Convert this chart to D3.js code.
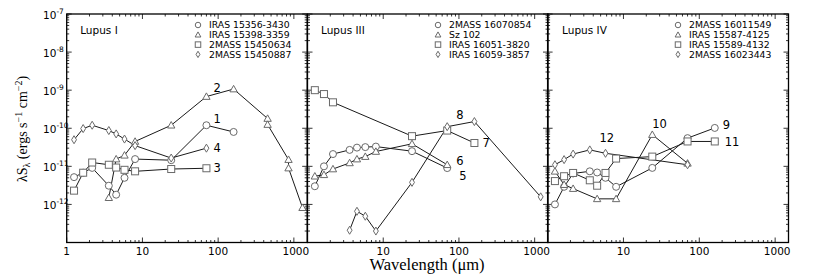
<!DOCTYPE html>
<html><head><meta charset="utf-8">
<script src="https://cdn.jsdelivr.net/npm/d3@7"></script>
<style>body{margin:0;background:#fff}svg{display:block}</style>
</head><body><svg id="c" width="830" height="277"></svg>
<script>
// ---- data ----
const panelTitles = ["Lupus I", "Lupus III", "Lupus IV"];
const xTickValues = [1, 10, 100, 1000];
const yTickValues = [1e-13, 1e-12, 1e-11, 1e-10, 1e-9, 1e-8, 1e-7];
const yTickExps = ["-13", "-12", "-11", "-10", "-9", "-8", "-7"];

// Lupus I
const l1_names = ["IRAS 15356-3430", "IRAS 15398-3359", "2MASS 15450634", "2MASS 15450887"];
const l1_s1_wl = [1.25, 1.65, 2.17, 3.6, 4.5, 5.8, 8, 24, 70, 160];
const l1_s1_f = [5.2e-12, 6.8e-12, 9.1e-12, 3.1e-12, 1.8e-12, 5.0e-12, 1.55e-11, 1.45e-11, 1.2e-10, 8e-11];
const l1_s2_wl = [3.6, 4.5, 5.8, 8, 24, 70, 160, 450, 450, 850, 850, 1300];
const l1_s2_f = [1.5e-12, 1.55e-11, 1.95e-11, 4.5e-11, 1.2e-10, 6.8e-10, 1.07e-9, 1.8e-10, 1.25e-10, 1.5e-11, 9e-12, 8.2e-13];
const l1_s3_wl = [1.25, 1.65, 2.17, 3.6, 4.5, 5.8, 8, 24, 70];
const l1_s3_f = [2.3e-12, 6.8e-12, 1.26e-11, 1.1e-11, 9.3e-12, 8.1e-12, 7.4e-12, 8.5e-12, 8.9e-12];
const l1_s4_wl = [1.25, 1.65, 2.17, 3.6, 4.5, 5.8, 8, 24, 70];
const l1_s4_f = [5e-11, 9.8e-11, 1.2e-10, 8.7e-11, 7.1e-11, 5.2e-11, 3.5e-11, 1.65e-11, 3e-11];
const l1_labels = ["1", "2", "3", "4"];

// Lupus III
const l3_names = ["2MASS 16070854", "Sz 102", "IRAS 16051-3820", "IRAS 16059-3857"];
const l3_s1_wl = [1.25, 1.65, 2.17, 3.6, 4.5, 5.8, 8, 24, 70];
const l3_s1_f = [3e-12, 1e-11, 2.1e-11, 2.7e-11, 3.1e-11, 3.2e-11, 3.3e-11, 2.5e-11, 9e-12];
const l3_s2_wl = [1.25, 1.65, 2.17, 3.6, 4.5, 5.8, 8, 24, 70];
const l3_s2_f = [5.5e-12, 6e-12, 8.5e-12, 1.23e-11, 1.55e-11, 1.8e-11, 2.45e-11, 3.9e-11, 1.1e-11];
const l3_s3_wl = [1.25, 1.65, 2.17, 24, 70, 160];
const l3_s3_f = [1e-9, 7.9e-10, 4.8e-10, 6.2e-11, 8.7e-11, 4.1e-11];
const l3_s4_wl = [3.6, 4.5, 5.8, 8, 24, 70, 160, 1200];
const l3_s4_f = [2.1e-13, 6.6e-13, 4.9e-13, 2e-13, 3.8e-12, 1.1e-10, 1.5e-10, 1.58e-12];
const l3_labels = ["5", "6", "7", "8"];

// Lupus IV
const l4_names = ["2MASS 16011549", "IRAS 15587-4125", "IRAS 15589-4132", "2MASS 16023443"];
const l4_s1_wl = [1.25, 1.65, 2.17, 3.6, 4.5, 5.8, 8, 24, 70, 160];
const l4_s1_f = [1e-12, 2.9e-12, 6.5e-12, 7.4e-12, 6.9e-12, 5e-12, 2.9e-12, 9.1e-12, 5.5e-11, 1.02e-10];
const l4_s2_wl = [1.25, 1.65, 2.17, 4.5, 8, 24, 70];
const l4_s2_f = [7.4e-12, 3.3e-12, 2.6e-12, 1.4e-12, 1.4e-12, 6.8e-11, 1.2e-11];
const l4_s3_wl = [1.25, 1.65, 2.17, 3.6, 4.5, 5.8, 8, 24, 70, 160];
const l4_s3_f = [4.1e-12, 5.5e-12, 6.7e-12, 4.3e-12, 3.1e-12, 6.7e-12, 1.6e-11, 1.8e-11, 4.5e-11, 4.5e-11];
const l4_s4_wl = [1.25, 1.65, 2.17, 3.6, 5.8, 70];
const l4_s4_f = [1.1e-11, 1.5e-11, 2.1e-11, 2.7e-11, 2.2e-11, 1.1e-11];
const l4_labels = ["9", "10", "11", "12"];

const markerTypes = ["circle", "triangle", "square", "diamond"];

const panels = [
  {title: panelTitles[0], names: l1_names, labels: l1_labels,
   series: [[l1_s1_wl, l1_s1_f], [l1_s2_wl, l1_s2_f], [l1_s3_wl, l1_s3_f], [l1_s4_wl, l1_s4_f]],
   lab: [[8, 7, -6], [5, 7, -9], [8, 7, 0], [8, 7, 0]]},
  {title: panelTitles[1], names: l3_names, labels: l3_labels,
   series: [[l3_s1_wl, l3_s1_f], [l3_s2_wl, l3_s2_f], [l3_s3_wl, l3_s3_f], [l3_s4_wl, l3_s4_f]],
   lab: [[8, 12, 8], [8, 9, -4], [5, 8, 0], [5, 9, -12]]},
  {title: panelTitles[2], names: l4_names, labels: l4_labels,
   series: [[l4_s1_wl, l4_s1_f], [l4_s2_wl, l4_s2_f], [l4_s3_wl, l4_s3_f], [l4_s4_wl, l4_s4_f]],
   lab: [[9, 8, -3], [5, 0, -11], [9, 10, 1], [4, -6, -15]]}
];

// ---- layout ----
const svg = d3.select("#c");
const yTop = 14, yBot = 242.5;
const panelX = [[66.7, 307.2], [307.5, 548], [547.6, 788.5]];
const y = d3.scaleLog().domain([1e-13, 1e-7]).range([yBot, yTop]);
const lineCol = "#1a1a1a", mkCol = "#6a6a6a";

function drawMarker(g, type, cx, cy, s) {
  const h = s / 2;
  let el;
  if (type === "circle") el = g.append("circle").attr("cx", cx).attr("cy", cy).attr("r", h);
  else if (type === "square") el = g.append("rect").attr("x", cx - h).attr("y", cy - h).attr("width", s).attr("height", s);
  else if (type === "triangle") el = g.append("path").attr("d", `M${cx},${cy - h * 1.05}L${cx + h * 1.05},${cy + h * 0.8}L${cx - h * 1.05},${cy + h * 0.8}Z`);
  else el = g.append("path").attr("d", `M${cx},${cy - h * 1.15}L${cx + h * 0.7},${cy}L${cx},${cy + h * 1.15}L${cx - h * 0.7},${cy}Z`);
  el.attr("fill", "#fff").attr("stroke", mkCol).attr("stroke-width", 1);
}

const minorMult = [2, 3, 4, 5, 6, 7, 8, 9];

panels.forEach((p, pi) => {
  const [x0, x1] = panelX[pi];
  const x = d3.scaleLog().domain([1, 1500]).range([x0, x1]);
  const g = svg.append("g");

  const tg = g.append("g").attr("stroke", "#000").attr("stroke-width", 0.8);
  const xMinor = [];
  xTickValues.forEach(v => minorMult.forEach(m => { if (v * m <= 1500) xMinor.push(v * m); }));
  xTickValues.forEach(v => {
    const px = x(v);
    tg.append("line").attr("x1", px).attr("x2", px).attr("y1", yBot).attr("y2", yBot - 5);
    tg.append("line").attr("x1", px).attr("x2", px).attr("y1", yTop).attr("y2", yTop + 5);
  });
  xMinor.forEach(v => {
    const px = x(v);
    tg.append("line").attr("x1", px).attr("x2", px).attr("y1", yBot).attr("y2", yBot - 2.5);
    tg.append("line").attr("x1", px).attr("x2", px).attr("y1", yTop).attr("y2", yTop + 2.5);
  });
  yTickValues.forEach(v => {
    const py = y(v);
    tg.append("line").attr("x1", x0).attr("x2", x0 + 5).attr("y1", py).attr("y2", py);
    tg.append("line").attr("x1", x1).attr("x2", x1 - 5).attr("y1", py).attr("y2", py);
    if (v < 1e-7) minorMult.forEach(m => {
      const pm = y(v * m);
      tg.append("line").attr("x1", x0).attr("x2", x0 + 2.5).attr("y1", pm).attr("y2", pm);
      tg.append("line").attr("x1", x1).attr("x2", x1 - 2.5).attr("y1", pm).attr("y2", pm);
    });
  });

  xTickValues.forEach(v => {
    if (pi > 0 && v === 1) return;
    g.append("text").attr("x", x(v) + (v === 1000 ? 2 : 0)).attr("y", 254.5).attr("text-anchor", "middle")
      .attr("font-family", "DejaVu Sans").attr("font-size", 10.5).text(String(v));
  });

  if (pi === 0) {
    yTickValues.forEach((v, i) => {
      if (v < 1e-12) return;
      const t = g.append("text").attr("x", 43).attr("y", y(v) + 4.5)
        .attr("font-family", "DejaVu Sans").attr("font-size", 10.5);
      t.append("tspan").text("10");
      t.append("tspan").attr("dy", -5).attr("font-size", 7.5).text(yTickExps[i]);
    });
  }

  const line = d3.line().x(d => x(d[0])).y(d => y(d[1]));
  p.series.forEach(s => {
    const pts = s[0].map((w, k) => [w, s[1][k]]);
    g.append("path").attr("d", line(pts)).attr("fill", "none").attr("stroke", lineCol).attr("stroke-width", 1);
  });
  p.series.forEach((s, si) => {
    s[0].forEach((w, k) => drawMarker(g, markerTypes[si], x(w), y(s[1][k]), 7));
  });
  p.series.forEach((s, si) => {
    const [idx, dx, dy] = p.lab[si];
    g.append("text").attr("x", x(s[0][idx]) + dx).attr("y", y(s[1][idx]) + dy + 4)
      .attr("font-family", "DejaVu Sans").attr("font-size", 11.5).text(p.labels[si]);
  });

  g.append("text").attr("x", x0 + [13.5, 13.5, 14.5][pi]).attr("y", 34)
    .attr("font-family", "DejaVu Sans").attr("font-size", 10.5).text(p.title);

  const lx = [198, 438, 678][pi];
  p.names.forEach((n, i) => {
    const ly = 25 + i * 9.8;
    drawMarker(g, markerTypes[i], lx, ly, 5.5);
    g.append("text").attr("x", lx + 11).attr("y", ly + 3.3)
      .attr("font-family", "DejaVu Sans").attr("font-size", 9.3).text(n);
  });

  g.append("rect").attr("x", x0).attr("y", yTop).attr("width", x1 - x0).attr("height", yBot - yTop)
    .attr("fill", "none").attr("stroke", "#000").attr("stroke-width", 1.3);
});

svg.append("text").attr("x", 427).attr("y", 270).attr("text-anchor", "middle")
  .attr("font-family", "Liberation Serif").attr("font-size", 16.5).text("Wavelength (\u03bcm)");

const yt = svg.append("text").attr("transform", "translate(27,129) rotate(-90)").attr("text-anchor", "middle")
  .attr("font-family", "Liberation Serif").attr("font-size", 14);
yt.append("tspan").text("\u03bbS");
yt.append("tspan").attr("font-size", 10).attr("dy", 3).text("\u03bb");
yt.append("tspan").attr("dy", -3).text(" (ergs s");
yt.append("tspan").attr("font-size", 10).attr("dy", -5).text("\u22121");
yt.append("tspan").attr("dy", 5).text(" cm");
yt.append("tspan").attr("font-size", 10).attr("dy", -5).text("\u22122");
yt.append("tspan").attr("dy", 5).text(")");
</script></body></html>
